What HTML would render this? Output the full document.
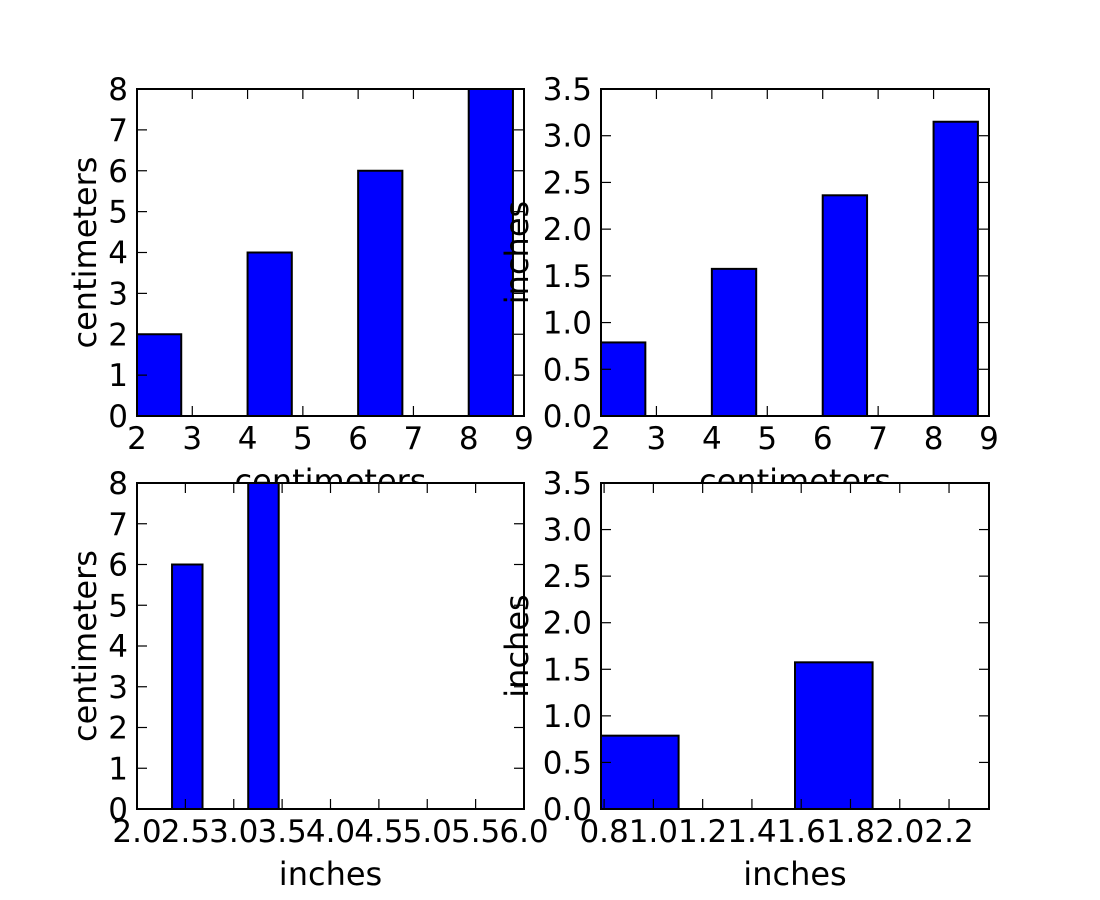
<!DOCTYPE html>
<html><head><meta charset="utf-8"><style>
body{margin:0;background:#fff}
svg{display:block;font-family:"DejaVu Sans","Liberation Sans",sans-serif}
</style></head><body>
<svg id="chart" width="1100" height="900"></svg>
<script>
const barPosCm = [2, 4, 6, 8];
const barHeightCm = [2, 4, 6, 8];
const barWidthCm = 0.8;
const CM_PER_IN = 2.54;
const ticksTopLeftX = [2,3,4,5,6,7,8,9];
const ticksTopLeftY = [0,1,2,3,4,5,6,7,8];
const ticksInY = ['0.0','0.5','1.0','1.5','2.0','2.5','3.0','3.5'];
const ticksBLX = ['2.0','2.5','3.0','3.5','4.0','4.5','5.0','5.5','6.0'];
const ticksBRX = ['0.8','1.0','1.2','1.4','1.6','1.8','2.0','2.2'];

const NS='http://www.w3.org/2000/svg';
const svg=document.getElementById('chart');
function el(t,a,p){const e=document.createElementNS(NS,t);for(const k in a)e.setAttribute(k,a[k]);(p||svg).appendChild(e);return e;}
const TF=31, LF=32;
function panel(name,L,T,R,B,xmin,xmax,ymin,ymax,xConv,yConv,xticks,yticks,xlabel,ylabel,ylabX){
  const g=el('g',{});
  
  
  const sx=v=>L+(v-xmin)/(xmax-xmin)*(R-L);
  const sy=v=>B-(v-ymin)/(ymax-ymin)*(B-T);
  el('rect',{x:L,y:T,width:R-L,height:B-T,fill:'#fff'},g);
  const cid='c'+name;
  const cp=el('clipPath',{id:cid},g);el('rect',{x:L,y:T,width:R-L,height:B-T},cp);
  const bars=el('g',{'clip-path':'url(#'+cid+')'},g);
  for(let i=0;i<barPosCm.length;i++){
    const x0=xConv(barPosCm[i]),x1=xConv(barPosCm[i]+barWidthCm),h=yConv(barHeightCm[i]);
    const r=el('rect',{x:sx(x0),y:sy(h),width:sx(x1)-sx(x0),height:sy(0)-sy(h),fill:'#0000ff',stroke:'#000','stroke-width':2},bars);
    
    
  }
  for(const t of xticks){const x=sx(+t);if(x<L-1||x>R+1)continue;
    el('line',{x1:x,y1:B,x2:x,y2:B-10,stroke:'#000','stroke-width':1.2},g);
    el('line',{x1:x,y1:T,x2:x,y2:T+10,stroke:'#000','stroke-width':1.2},g);
    const tx=el('text',{x:x,y:B+33,'font-size':TF,'text-anchor':'middle'},g);tx.textContent=t;
    
    
  }
  for(const t of yticks){const y=sy(+t);
    el('line',{x1:L,y1:y,x2:L+10,y2:y,stroke:'#000','stroke-width':1.2},g);
    el('line',{x1:R,y1:y,x2:R-10,y2:y,stroke:'#000','stroke-width':1.2},g);
    const ty=el('text',{x:L-9,y:y+11,'font-size':TF,'text-anchor':'end'},g);ty.textContent=t;
    
    
  }
  el('rect',{x:L,y:T,width:R-L,height:B-T,fill:'none',stroke:'#000','stroke-width':2},g);
  const xl=el('text',{x:(L+R)/2,y:B+76,'font-size':LF,'text-anchor':'middle'},g);xl.textContent=xlabel;
  
  
  const yl=el('text',{x:ylabX,y:(T+B)/2,'font-size':LF,'text-anchor':'middle',transform:'rotate(-90 '+ylabX+' '+(T+B)/2+')'},g);yl.textContent=ylabel;
  
  
}
const id=v=>v, toIn=v=>v/CM_PER_IN;
panel('panel-cm-cm',137,89,524,416,2,9,0,8,id,id,ticksTopLeftX,ticksTopLeftY,'centimeters','centimeters',96);
panel('panel-cm-in',601,89,989,416,2,9,0,3.5,id,toIn,ticksTopLeftX,ticksInY,'centimeters','inches',528);
panel('panel-in-cm',137,483,524,809,2,6,0,8,toIn,id,ticksBLX,ticksTopLeftY,'inches','centimeters',96);
panel('panel-in-in',601,483,989,809,2/CM_PER_IN,6/CM_PER_IN,0,3.5,toIn,toIn,ticksBRX,ticksInY,'inches','inches',528);
</script>
</body></html>
